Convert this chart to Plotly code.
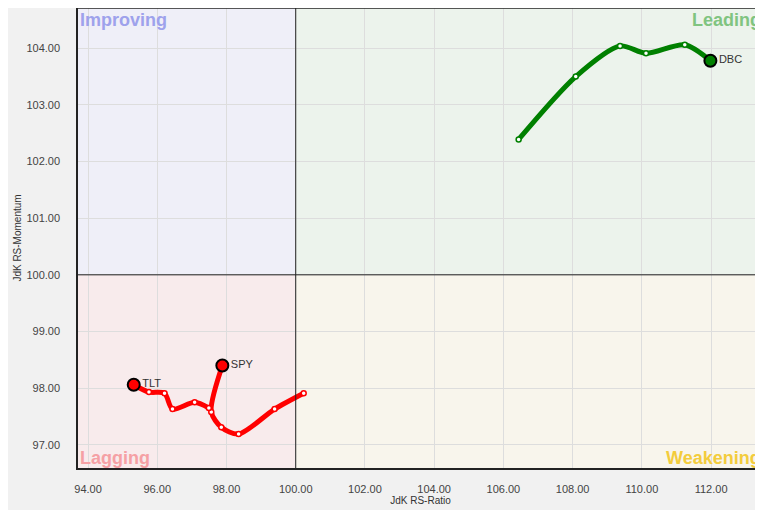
import plotly.graph_objects as go

# ---- data ----
dbc_x = [106.44, 108.09, 109.37, 110.12, 111.24, 111.98]
dbc_y = [102.39, 103.50, 104.04, 103.91, 104.06, 103.78]

spy_x = [100.23, 99.39, 98.35, 97.85, 97.56, 97.88]
spy_y = [97.91, 97.63, 97.19, 97.31, 97.58, 98.40]

tlt_x = [97.49, 97.08, 96.44, 96.21, 95.76, 95.32]
tlt_y = [97.65, 97.75, 97.63, 97.91, 97.93, 98.06]

series_names = ["DBC", "SPY", "TLT"]
series_colors = ["#008000", "#ff0000", "#ff0000"]

x_ticks = [94, 96, 98, 100, 102, 104, 106, 108, 110, 112]
y_ticks = [97, 98, 99, 100, 101, 102, 103, 104]

X_RANGE = [93.71, 113.5]
Y_RANGE = [96.59, 104.71]
CENTER = 100

fig = go.Figure()

# quadrant backgrounds
quads = [
    (X_RANGE[0], CENTER, CENTER, Y_RANGE[1], "#efeff8"),
    (CENTER, X_RANGE[1], CENTER, Y_RANGE[1], "#ecf3ec"),
    (X_RANGE[0], CENTER, Y_RANGE[0], CENTER, "#f8ebec"),
    (CENTER, X_RANGE[1], Y_RANGE[0], CENTER, "#f8f5ec"),
]
for x0, x1, y0, y1, c in quads:
    fig.add_shape(type="rect", x0=x0, x1=x1, y0=y0, y1=y1, xref="x", yref="y",
                  fillcolor=c, line_width=0, layer="below")

for name, xs, ys, col in zip(series_names, [dbc_x, spy_x, tlt_x], [dbc_y, spy_y, tlt_y], series_colors):
    fig.add_trace(go.Scatter(
        x=xs, y=ys, mode="lines+markers",
        line=dict(color=col, width=5, shape="spline", smoothing=0.8),
        marker=dict(size=5, color="white", line=dict(color=col, width=1.5)),
        showlegend=False, hoverinfo="skip"))
for name, xs, ys, col in zip(series_names, [dbc_x, spy_x, tlt_x], [dbc_y, spy_y, tlt_y], series_colors):
    fig.add_trace(go.Scatter(
        x=[xs[-1]], y=[ys[-1]], mode="markers+text",
        marker=dict(size=12, color=col, line=dict(color="black", width=2)),
        text=[name], textposition="middle right",
        textfont=dict(family="Liberation Sans, Arial", size=11, color="#333333"),
        showlegend=False, hoverinfo="skip"))

# quadrant divider lines
fig.add_shape(type="line", x0=CENTER, x1=CENTER, y0=Y_RANGE[0], y1=Y_RANGE[1],
              xref="x", yref="y", line=dict(color="#222222", width=1))
fig.add_shape(type="line", x0=X_RANGE[0], x1=X_RANGE[1], y0=CENTER, y1=CENTER,
              xref="x", yref="y", line=dict(color="#222222", width=1))
# top border
fig.add_shape(type="line", x0=0, x1=1, y0=1, y1=1, xref="paper", yref="paper",
              line=dict(color="#222222", width=1.5))

qfont = dict(family="Liberation Sans, Arial", size=18)
fig.add_annotation(x=0, y=1, xref="paper", yref="paper", xanchor="left", yanchor="top",
                   text="<b>Improving</b>", showarrow=False,
                   font=dict(color="#9ea2ec", **qfont))
fig.add_annotation(x=1, y=1, xref="paper", yref="paper", xanchor="right", yanchor="top",
                   text="<b>Leading</b>", showarrow=False,
                   font=dict(color="#80c480", **qfont))
fig.add_annotation(x=0, y=0, xref="paper", yref="paper", xanchor="left", yanchor="bottom",
                   text="<b>Lagging</b>", showarrow=False, yshift=-2,
                   font=dict(color="#f5a0a4", **qfont))
fig.add_annotation(x=1, y=0, xref="paper", yref="paper", xanchor="right", yanchor="bottom",
                   text="<b>Weakening</b>", showarrow=False, yshift=-2,
                   font=dict(color="#f3cc3c", **qfont))

tickfont = dict(family="Liberation Sans, Arial", size=11, color="#444444")
fig.update_xaxes(range=X_RANGE, tickvals=x_ticks, ticktext=[f"{v:.2f}" for v in x_ticks],
                 showgrid=True, gridcolor="#dddddd", gridwidth=1, zeroline=False,
                 showline=True, linecolor="#222222", linewidth=1.5, mirror=False,
                 ticks="", tickfont=tickfont, ticklabelstandoff=10, automargin=False,
                 title=dict(text="JdK RS-Ratio", font=dict(family="Liberation Sans, Arial", size=10, color="#333333"), standoff=3))
fig.update_yaxes(range=Y_RANGE, tickvals=y_ticks, ticktext=[f"{v:.2f}" for v in y_ticks],
                 showgrid=True, gridcolor="#dddddd", gridwidth=1, zeroline=False,
                 showline=True, linecolor="#222222", linewidth=1.5, mirror=False,
                 ticks="", tickfont=tickfont, ticklabelstandoff=14, automargin=False,
                 title=dict(text="JdK RS-Momentum", font=dict(family="Liberation Sans, Arial", size=10, color="#333333"), standoff=3))

fig.update_layout(width=755, height=502, paper_bgcolor="#f1f1f1", plot_bgcolor="#f1f1f1",
                  margin=dict(l=70, r=0, t=0, b=42), showlegend=False)

fig.write_html("out.html")
